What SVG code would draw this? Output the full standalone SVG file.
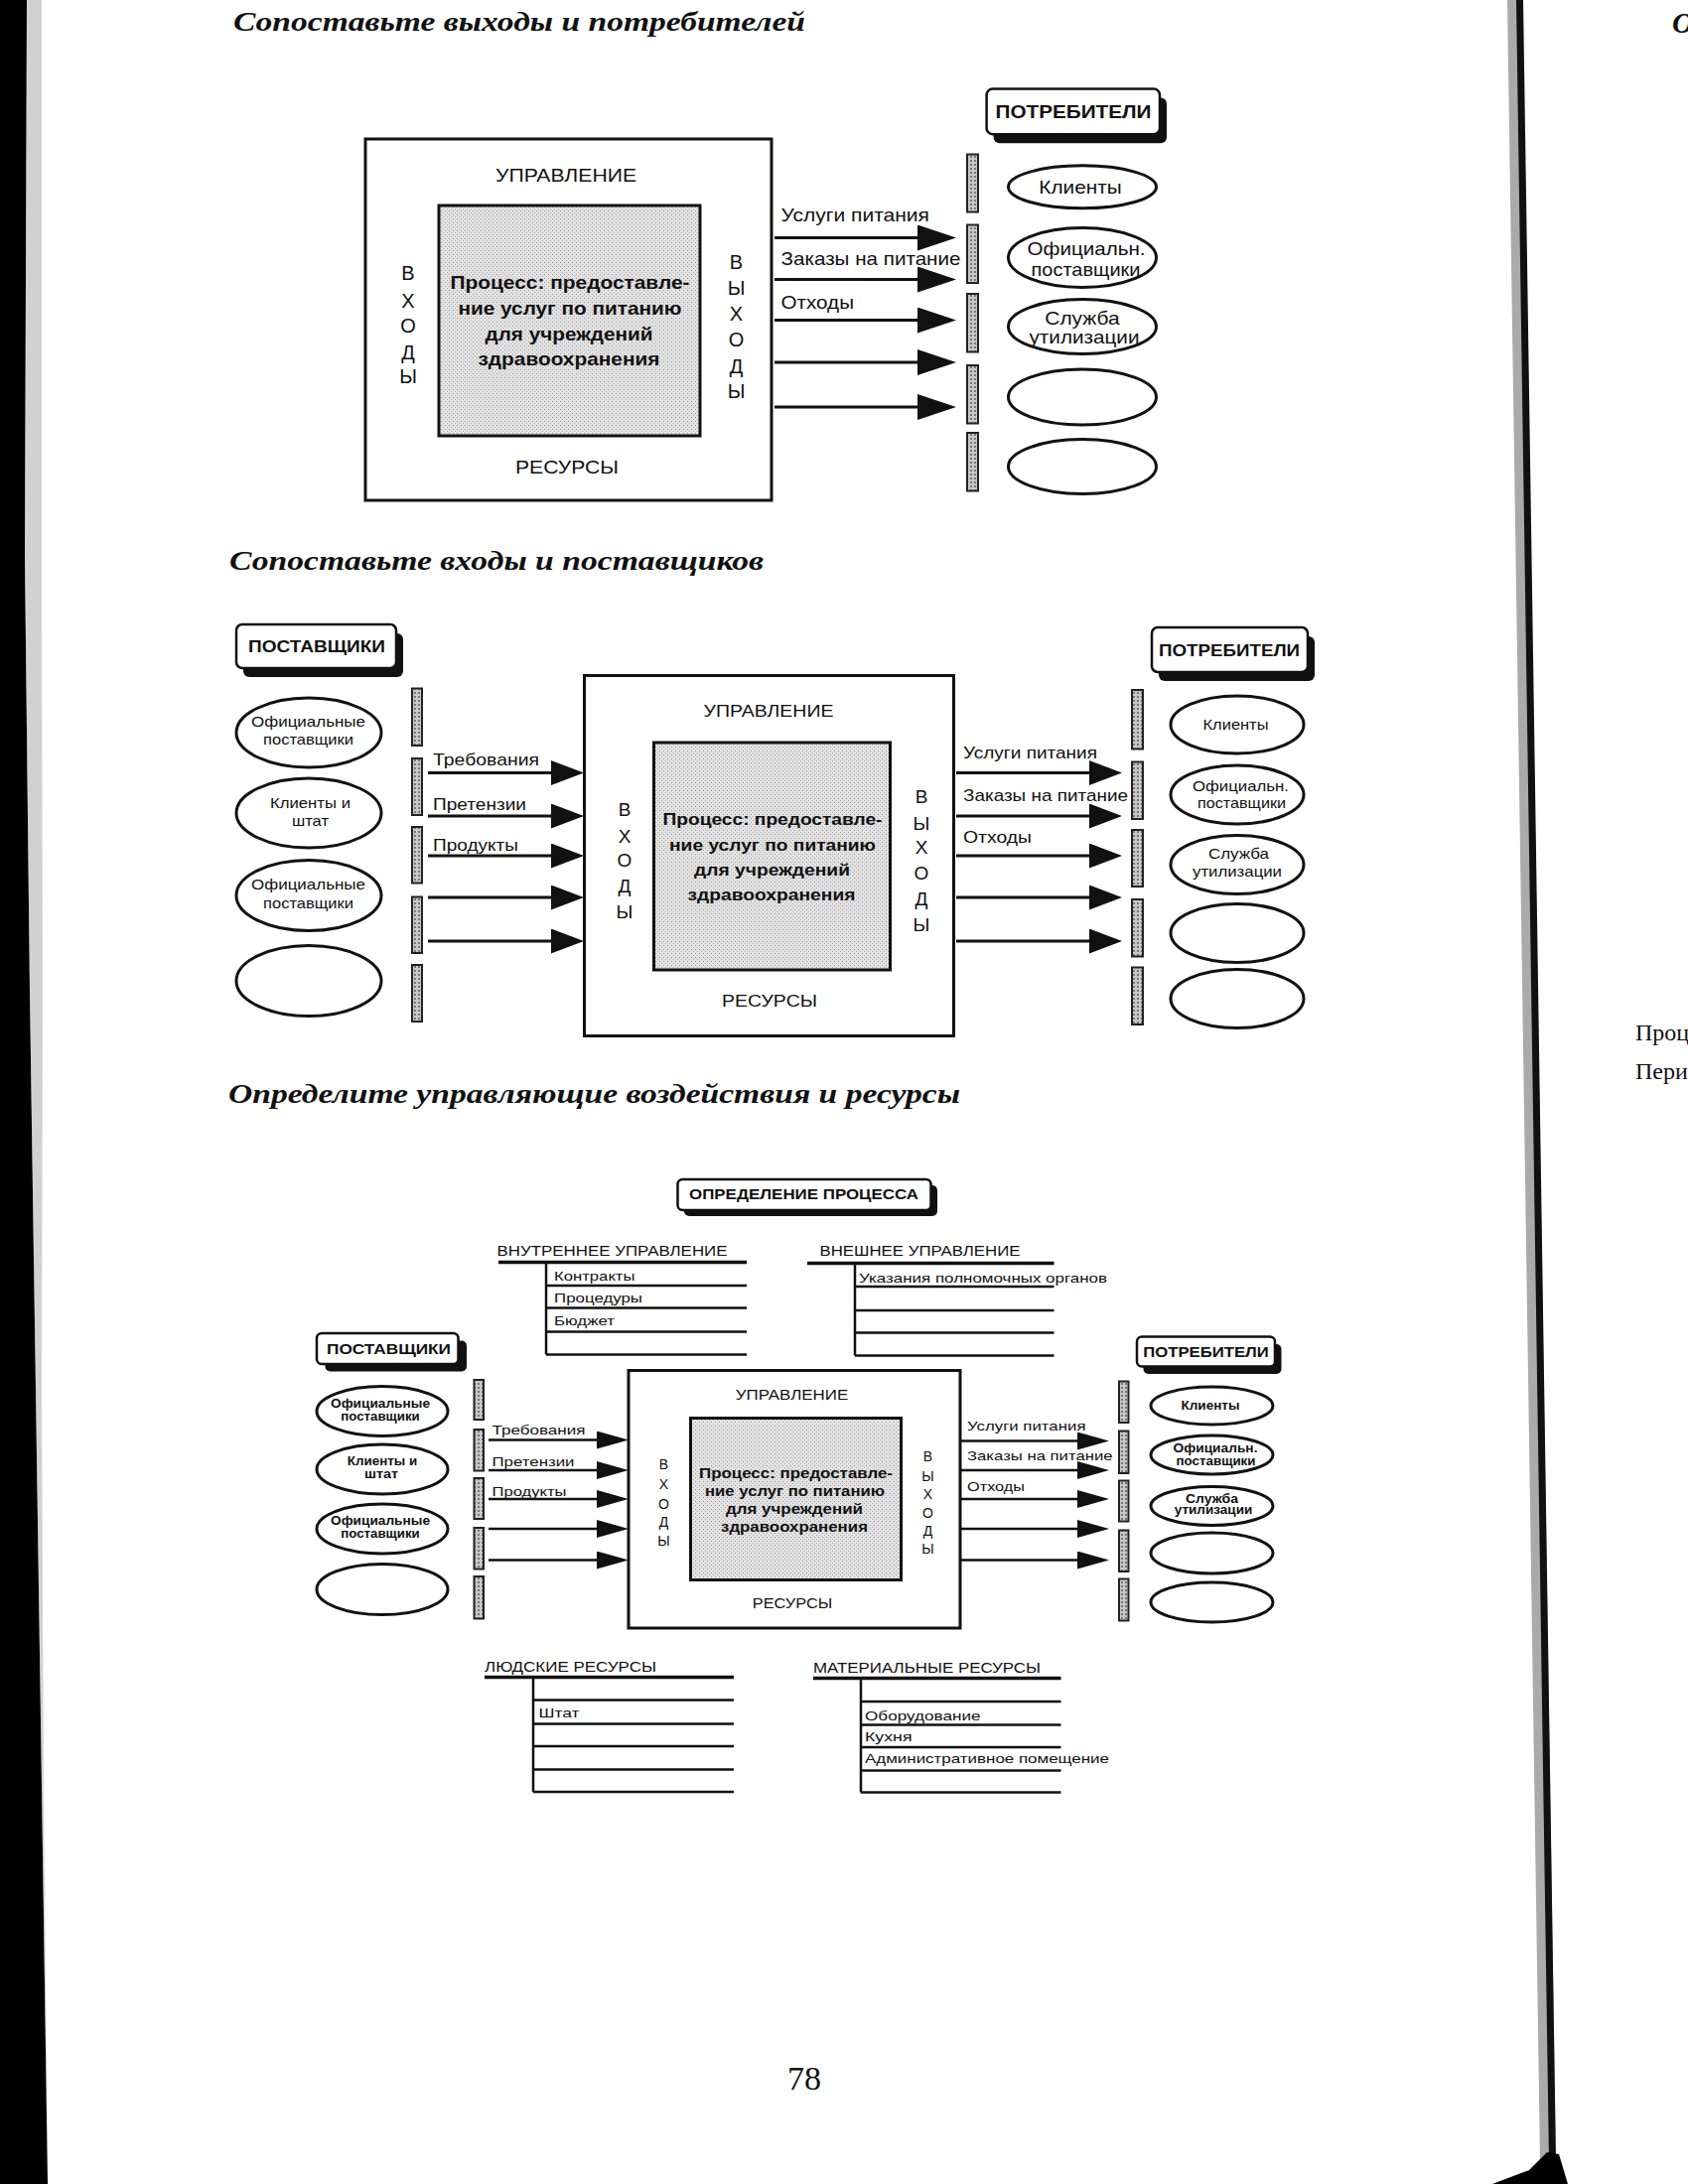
<svg xmlns="http://www.w3.org/2000/svg" width="1700" height="2200" viewBox="0 0 1700 2200">
<style>
.s{font-family:"Liberation Sans",Arial,sans-serif;fill:#111}
.b{font-weight:bold}
.m{text-anchor:middle}
.ttl{font-family:"Liberation Serif","Times New Roman",serif;font-weight:bold;font-style:italic;fill:#111}
.pg{font-family:"Liberation Serif","Times New Roman",serif;fill:#111}
.box{fill:#fff;stroke:#111;stroke-width:3}
.inner{fill:url(#stip);stroke:#111;stroke-width:3}
.bar{fill:url(#bp);stroke:#222;stroke-width:2}
.ell{fill:#fff;stroke:#111;stroke-width:3}
.sh{fill:#111}
.lbl{fill:#fff;stroke:#111;stroke-width:2.5}
.a1{stroke:#111;stroke-width:3;marker-end:url(#ah1)}
.a2{stroke:#111;stroke-width:3;marker-end:url(#ah2)}
.a3{stroke:#111;stroke-width:2.5;marker-end:url(#ah3)}
.tl{stroke:#111;stroke-width:2.5;fill:none}
.tt{stroke:#111;stroke-width:3.5;fill:none}
</style>
<defs>
<pattern id="stip" width="4" height="4" patternUnits="userSpaceOnUse">
<rect width="4" height="4" fill="#e2e2e2"/>
<rect x="0" y="0" width="1" height="1" fill="#9a9a9a"/>
<rect x="2" y="2" width="1" height="1" fill="#b0b0b0"/>
</pattern>
<pattern id="bp" width="4" height="4" patternUnits="userSpaceOnUse">
<rect width="4" height="4" fill="#c8c8c8"/>
<rect x="1" y="1" width="2" height="2" fill="#777"/>
</pattern>
<marker id="ah1" markerUnits="userSpaceOnUse" markerWidth="40" markerHeight="26" viewBox="0 0 40 26" refX="25" refY="13" orient="auto"><path d="M0,0 L39,13 L0,26 Z" fill="#111"/></marker>
<marker id="ah2" markerUnits="userSpaceOnUse" markerWidth="34" markerHeight="26" viewBox="0 0 34 26" refX="21" refY="12.5" orient="auto"><path d="M0,0 L33,12.5 L0,25 Z" fill="#111"/></marker>
<marker id="ah3" markerUnits="userSpaceOnUse" markerWidth="33" markerHeight="19" viewBox="0 0 33 19" refX="20" refY="9" orient="auto"><path d="M0,0 L32,9 L0,18 Z" fill="#111"/></marker>
</defs>
<rect width="1700" height="2200" fill="#fff"/>

<g id="scan-edges">
<polygon points="0,0 27,0 25,560 30,1000 36,1400 42,1800 48,2200 0,2200" fill="#000"/>
<polygon points="27,0 42,0 42,600 43,1000 42,1400 44,1800 48,2200 42,1800 36,1400 30,1000 25,560" fill="#999" opacity="0.45"/>
<polygon points="1518,0 1533,0 1567,2178 1551,2178" fill="#aaa"/>
<polygon points="1527,0 1534,0 1567,2178 1560,2178" fill="#111"/>
<polygon points="1503,2200 1579,2200 1570,2170 1558,2168 1540,2186" fill="#000"/>
</g>

<g id="titles">
<text class="ttl" x="235" y="31" font-size="28" textLength="576" lengthAdjust="spacingAndGlyphs">Сопоставьте выходы и потребителей</text>
<text class="ttl" x="231" y="574" font-size="28" textLength="538" lengthAdjust="spacingAndGlyphs">Сопоставьте входы и поставщиков</text>
<text class="ttl" x="230" y="1111" font-size="28" textLength="737" lengthAdjust="spacingAndGlyphs">Определите управляющие воздействия и ресурсы</text>
<text class="ttl" x="1684" y="33" font-size="30">О</text>
<text class="pg" x="1647" y="1048" font-size="24">Проц</text>
<text class="pg" x="1647" y="1087" font-size="24">Пери</text>
<text class="pg m" x="810" y="2105" font-size="34">78</text>
</g>

<!-- ================= SECTION 1 ================= -->
<g id="s1-process">
<rect class="box" x="368" y="140" width="409" height="364"/>
<rect class="inner" x="442" y="207" width="263" height="232"/>
<text class="s m" x="570" y="182.5" font-size="19" textLength="142" lengthAdjust="spacingAndGlyphs">УПРАВЛЕНИЕ</text>
<text class="s m" x="571" y="477" font-size="19" textLength="104" lengthAdjust="spacingAndGlyphs">РЕСУРСЫ</text>
<text class="s b m" x="574" y="291" font-size="19" textLength="241" lengthAdjust="spacingAndGlyphs">Процесс: предоставле-</text>
<text class="s b m" x="574" y="317" font-size="19" textLength="225" lengthAdjust="spacingAndGlyphs">ние услуг по питанию</text>
<text class="s b m" x="573" y="343" font-size="19" textLength="169" lengthAdjust="spacingAndGlyphs">для учреждений</text>
<text class="s b m" x="573" y="368" font-size="19" textLength="183" lengthAdjust="spacingAndGlyphs">здравоохранения</text>
<g class="s m" font-size="20">
<text x="411" y="281.5">В</text><text x="411" y="309.5">Х</text><text x="411" y="335">О</text><text x="411" y="362">Д</text><text x="411" y="385.5">Ы</text>
<text x="741.5" y="270.5">В</text><text x="741.5" y="297">Ы</text><text x="741.5" y="323">Х</text><text x="741.5" y="348.5">О</text><text x="741.5" y="375.5">Д</text><text x="741.5" y="401">Ы</text>
</g>
</g>
<g id="s1-consumers-label">
<rect class="sh" x="1000.6" y="98.6" width="174.4" height="45.6" rx="6"/>
<rect class="lbl" x="993.6" y="89.6" width="174.4" height="45.6" rx="6"/>
<text class="s b m" x="1081" y="118.5" font-size="19" textLength="157" lengthAdjust="spacingAndGlyphs">ПОТРЕБИТЕЛИ</text>
</g>
<g id="s1-bars">
<rect class="bar" x="974" y="155.5" width="11" height="58"/>
<rect class="bar" x="974" y="226.5" width="11" height="58.5"/>
<rect class="bar" x="974" y="296" width="11" height="58.5"/>
<rect class="bar" x="974" y="368" width="11" height="58.5"/>
<rect class="bar" x="974" y="436" width="11" height="58.5"/>
</g>
<g id="s1-consumer-1"><ellipse class="ell" cx="1090" cy="188.3" rx="74.5" ry="21.5"/><text class="s m" x="1088" y="194.5" font-size="19" textLength="83.5" lengthAdjust="spacingAndGlyphs">Клиенты</text></g>
<g id="s1-consumer-2"><ellipse class="ell" cx="1090" cy="259.5" rx="74.5" ry="30"/><text class="s m" x="1094" y="257" font-size="19" textLength="119" lengthAdjust="spacingAndGlyphs">Официальн.</text><text class="s m" x="1093.5" y="277.5" font-size="19" textLength="110" lengthAdjust="spacingAndGlyphs">поставщики</text></g>
<g id="s1-consumer-3"><ellipse class="ell" cx="1090" cy="329" rx="74.5" ry="27.5"/><text class="s m" x="1090" y="326.5" font-size="19" textLength="75.5" lengthAdjust="spacingAndGlyphs">Служба</text><text class="s m" x="1092" y="346" font-size="19" textLength="111" lengthAdjust="spacingAndGlyphs">утилизации</text></g>
<g id="s1-consumer-4"><ellipse class="ell" cx="1090" cy="400" rx="74.5" ry="28"/></g>
<g id="s1-consumer-5"><ellipse class="ell" cx="1090" cy="470" rx="74.5" ry="27.5"/></g>
<g id="s1-connectors">
<line class="a1" x1="780" y1="239.5" x2="949" y2="239.5"/>
<line class="a1" x1="780" y1="281.5" x2="949" y2="281.5"/>
<line class="a1" x1="780" y1="322.5" x2="949" y2="322.5"/>
<line class="a1" x1="780" y1="365" x2="949" y2="365"/>
<line class="a1" x1="780" y1="410" x2="949" y2="410"/>
<text class="s" x="786.5" y="223" font-size="19" textLength="149.5" lengthAdjust="spacingAndGlyphs">Услуги питания</text>
<text class="s" x="786.5" y="267" font-size="19" textLength="181" lengthAdjust="spacingAndGlyphs">Заказы на питание</text>
<text class="s" x="786.5" y="311" font-size="19" textLength="73.5" lengthAdjust="spacingAndGlyphs">Отходы</text>
</g>

<!-- ================= SECTION 2 ================= -->
<g id="s2-suppliers-label">
<rect class="sh" x="245" y="638" width="161" height="44" rx="6"/>
<rect class="lbl" x="238" y="629" width="161" height="44" rx="6"/>
<text class="s b m" x="319" y="657" font-size="17" textLength="138" lengthAdjust="spacingAndGlyphs">ПОСТАВЩИКИ</text>
</g>
<g id="s2-consumers-label">
<rect class="sh" x="1167" y="641" width="157" height="45" rx="6"/>
<rect class="lbl" x="1160" y="632" width="157" height="45" rx="6"/>
<text class="s b m" x="1238" y="661" font-size="17" textLength="142" lengthAdjust="spacingAndGlyphs">ПОТРЕБИТЕЛИ</text>
</g>
<g id="s2-process">
<rect class="box" x="588.5" y="680.5" width="372" height="363"/>
<rect class="inner" x="658.5" y="748" width="238" height="229"/>
<text class="s m" x="774" y="722" font-size="17" textLength="131" lengthAdjust="spacingAndGlyphs">УПРАВЛЕНИЕ</text>
<text class="s m" x="775" y="1014" font-size="17" textLength="96" lengthAdjust="spacingAndGlyphs">РЕСУРСЫ</text>
<text class="s b m" x="778" y="831" font-size="17" textLength="221" lengthAdjust="spacingAndGlyphs">Процесс: предоставле-</text>
<text class="s b m" x="778" y="857" font-size="17" textLength="208" lengthAdjust="spacingAndGlyphs">ние услуг по питанию</text>
<text class="s b m" x="777.5" y="882" font-size="17" textLength="157" lengthAdjust="spacingAndGlyphs">для учреждений</text>
<text class="s b m" x="777" y="907" font-size="17" textLength="169" lengthAdjust="spacingAndGlyphs">здравоохранения</text>
<g class="s m" font-size="19">
<text x="629" y="822">В</text><text x="629" y="849">Х</text><text x="629" y="873">О</text><text x="629" y="899">Д</text><text x="629" y="925">Ы</text>
<text x="928" y="809">В</text><text x="928" y="836">Ы</text><text x="928" y="860">Х</text><text x="928" y="886">О</text><text x="928" y="912">Д</text><text x="928" y="938">Ы</text>
</g>
</g>
<g id="s2-left-bars">
<rect class="bar" x="415" y="693.5" width="10" height="57.5"/>
<rect class="bar" x="415" y="764" width="10" height="57"/>
<rect class="bar" x="415" y="833" width="10" height="56.5"/>
<rect class="bar" x="415" y="903.5" width="10" height="56.5"/>
<rect class="bar" x="415" y="972" width="10" height="57"/>
</g>
<g id="s2-supplier-1"><ellipse class="ell" cx="311" cy="738" rx="73" ry="35"/><text class="s m" x="310.5" y="732" font-size="15" textLength="115" lengthAdjust="spacingAndGlyphs">Официальные</text><text class="s m" x="310.5" y="750" font-size="15" textLength="91" lengthAdjust="spacingAndGlyphs">поставщики</text></g>
<g id="s2-supplier-2"><ellipse class="ell" cx="311" cy="819" rx="73" ry="35"/><text class="s m" x="312.5" y="814" font-size="15" textLength="81" lengthAdjust="spacingAndGlyphs">Клиенты и</text><text class="s m" x="312.5" y="832" font-size="15" textLength="37" lengthAdjust="spacingAndGlyphs">штат</text></g>
<g id="s2-supplier-3"><ellipse class="ell" cx="311" cy="902" rx="73" ry="35.5"/><text class="s m" x="310.5" y="896" font-size="15" textLength="115" lengthAdjust="spacingAndGlyphs">Официальные</text><text class="s m" x="310.5" y="915" font-size="15" textLength="91" lengthAdjust="spacingAndGlyphs">поставщики</text></g>
<g id="s2-supplier-4"><ellipse class="ell" cx="311" cy="988" rx="73" ry="35.5"/></g>
<g id="s2-right-bars">
<rect class="bar" x="1140" y="695" width="11" height="59.5"/>
<rect class="bar" x="1140" y="767.5" width="11" height="57.5"/>
<rect class="bar" x="1140" y="836" width="11" height="57"/>
<rect class="bar" x="1140" y="906" width="11" height="57.5"/>
<rect class="bar" x="1140" y="974.5" width="11" height="57.5"/>
</g>
<g id="s2-consumer-1"><ellipse class="ell" cx="1246" cy="730" rx="67" ry="29"/><text class="s m" x="1244.5" y="734.5" font-size="15" textLength="66" lengthAdjust="spacingAndGlyphs">Клиенты</text></g>
<g id="s2-consumer-2"><ellipse class="ell" cx="1246" cy="800.5" rx="67" ry="29.5"/><text class="s m" x="1249.5" y="797" font-size="15" textLength="97" lengthAdjust="spacingAndGlyphs">Официальн.</text><text class="s m" x="1250.5" y="813.5" font-size="15" textLength="89" lengthAdjust="spacingAndGlyphs">поставщики</text></g>
<g id="s2-consumer-3"><ellipse class="ell" cx="1246" cy="871" rx="67" ry="29.5"/><text class="s m" x="1247.5" y="864.5" font-size="15" textLength="61" lengthAdjust="spacingAndGlyphs">Служба</text><text class="s m" x="1246" y="882.5" font-size="15" textLength="90" lengthAdjust="spacingAndGlyphs">утилизации</text></g>
<g id="s2-consumer-4"><ellipse class="ell" cx="1246" cy="940" rx="67" ry="29.5"/></g>
<g id="s2-consumer-5"><ellipse class="ell" cx="1246" cy="1006" rx="67" ry="29.5"/></g>
<g id="s2-connectors">
<line class="a2" x1="431" y1="778.5" x2="576" y2="778.5"/>
<line class="a2" x1="431" y1="822" x2="576" y2="822"/>
<line class="a2" x1="431" y1="862" x2="576" y2="862"/>
<line class="a2" x1="431" y1="904" x2="576" y2="904"/>
<line class="a2" x1="431" y1="948" x2="576" y2="948"/>
<line class="a2" x1="963" y1="778.5" x2="1118" y2="778.5"/>
<line class="a2" x1="963" y1="822" x2="1118" y2="822"/>
<line class="a2" x1="963" y1="862" x2="1118" y2="862"/>
<line class="a2" x1="963" y1="904" x2="1118" y2="904"/>
<line class="a2" x1="963" y1="948" x2="1118" y2="948"/>
<text class="s" x="436" y="771" font-size="17" textLength="107" lengthAdjust="spacingAndGlyphs">Требования</text>
<text class="s" x="436" y="816" font-size="17" textLength="94" lengthAdjust="spacingAndGlyphs">Претензии</text>
<text class="s" x="436" y="857" font-size="17" textLength="86" lengthAdjust="spacingAndGlyphs">Продукты</text>
<text class="s" x="970" y="763.5" font-size="17" textLength="135" lengthAdjust="spacingAndGlyphs">Услуги питания</text>
<text class="s" x="970" y="807" font-size="17" textLength="166" lengthAdjust="spacingAndGlyphs">Заказы на питание</text>
<text class="s" x="970" y="849" font-size="17" textLength="69" lengthAdjust="spacingAndGlyphs">Отходы</text>
</g>

<!-- ================= SECTION 3 ================= -->
<g id="s3-process-definition">
<rect class="sh" x="689" y="1194" width="255" height="31" rx="5"/>
<rect class="lbl" x="682.5" y="1188" width="255" height="31" rx="5"/>
<text class="s b m" x="809.5" y="1208" font-size="14" textLength="231" lengthAdjust="spacingAndGlyphs">ОПРЕДЕЛЕНИЕ ПРОЦЕССА</text>
</g>
<g id="s3-internal-control">
<text class="s" x="500.5" y="1265" font-size="14" textLength="232" lengthAdjust="spacingAndGlyphs">ВНУТРЕННЕЕ УПРАВЛЕНИЕ</text>
<line class="tt" x1="502" y1="1271.5" x2="752" y2="1271.5"/>
<line class="tl" x1="550" y1="1271.5" x2="550" y2="1364.5"/>
<line class="tl" x1="550" y1="1295" x2="752" y2="1295"/>
<line class="tl" x1="550" y1="1317.5" x2="752" y2="1317.5"/>
<line class="tl" x1="550" y1="1341.5" x2="752" y2="1341.5"/>
<line class="tl" x1="550" y1="1364.5" x2="752" y2="1364.5"/>
<text class="s" x="558" y="1290" font-size="13" textLength="81.5" lengthAdjust="spacingAndGlyphs">Контракты</text>
<text class="s" x="558" y="1311.5" font-size="13" textLength="89" lengthAdjust="spacingAndGlyphs">Процедуры</text>
<text class="s" x="558" y="1334.5" font-size="13" textLength="61" lengthAdjust="spacingAndGlyphs">Бюджет</text>
</g>
<g id="s3-external-control">
<text class="s" x="825.5" y="1265" font-size="14" textLength="202" lengthAdjust="spacingAndGlyphs">ВНЕШНЕЕ УПРАВЛЕНИЕ</text>
<line class="tt" x1="813" y1="1272.5" x2="1061.5" y2="1272.5"/>
<line class="tl" x1="861" y1="1272.5" x2="861" y2="1365.5"/>
<line class="tl" x1="861" y1="1296" x2="1061.5" y2="1296"/>
<line class="tl" x1="861" y1="1320" x2="1061.5" y2="1320"/>
<line class="tl" x1="861" y1="1342.5" x2="1061.5" y2="1342.5"/>
<line class="tl" x1="861" y1="1365.5" x2="1061.5" y2="1365.5"/>
<text class="s" x="865" y="1291.5" font-size="13" textLength="250" lengthAdjust="spacingAndGlyphs">Указания полномочных органов</text>
</g>
<g id="s3-suppliers-label">
<rect class="sh" x="327.5" y="1350.5" width="142.5" height="31" rx="5"/>
<rect class="lbl" x="319" y="1343" width="142.5" height="31" rx="5"/>
<text class="s b m" x="391.5" y="1364" font-size="14" textLength="125" lengthAdjust="spacingAndGlyphs">ПОСТАВЩИКИ</text>
</g>
<g id="s3-consumers-label">
<rect class="sh" x="1151.5" y="1354" width="139" height="30" rx="5"/>
<rect class="lbl" x="1145" y="1346.5" width="139" height="30" rx="5"/>
<text class="s b m" x="1214.5" y="1367" font-size="14" textLength="126.5" lengthAdjust="spacingAndGlyphs">ПОТРЕБИТЕЛИ</text>
</g>
<g id="s3-process">
<rect class="box" x="633" y="1380.5" width="334" height="259.5"/>
<rect class="inner" x="695.5" y="1428.5" width="212" height="163"/>
<text class="s m" x="797.5" y="1410" font-size="14" textLength="113.5" lengthAdjust="spacingAndGlyphs">УПРАВЛЕНИЕ</text>
<text class="s m" x="798" y="1620" font-size="14" textLength="80.5" lengthAdjust="spacingAndGlyphs">РЕСУРСЫ</text>
<text class="s b m" x="801.5" y="1488.5" font-size="14" textLength="195" lengthAdjust="spacingAndGlyphs">Процесс: предоставле-</text>
<text class="s b m" x="800.5" y="1506.5" font-size="14" textLength="181" lengthAdjust="spacingAndGlyphs">ние услуг по питанию</text>
<text class="s b m" x="800" y="1525" font-size="14" textLength="138" lengthAdjust="spacingAndGlyphs">для учреждений</text>
<text class="s b m" x="800" y="1542.5" font-size="14" textLength="148" lengthAdjust="spacingAndGlyphs">здравоохранения</text>
<g class="s m" font-size="14">
<text x="668.5" y="1480">В</text><text x="668.5" y="1500">Х</text><text x="668.5" y="1520">О</text><text x="668.5" y="1538">Д</text><text x="668.5" y="1556.5">Ы</text>
<text x="934.5" y="1471.5">В</text><text x="934.5" y="1491.5">Ы</text><text x="934.5" y="1510">Х</text><text x="934.5" y="1528.5">О</text><text x="934.5" y="1546.5">Д</text><text x="934.5" y="1565">Ы</text>
</g>
</g>
<g id="s3-left-bars">
<rect class="bar" x="477.5" y="1390" width="9.5" height="40"/>
<rect class="bar" x="477.5" y="1440" width="9.5" height="41.5"/>
<rect class="bar" x="477.5" y="1489" width="9.5" height="41"/>
<rect class="bar" x="477.5" y="1539" width="9.5" height="41.5"/>
<rect class="bar" x="477.5" y="1588" width="9.5" height="42.5"/>
</g>
<g id="s3-supplier-1"><ellipse class="ell" cx="385" cy="1421.5" rx="66" ry="25"/><text class="s b m" x="383" y="1417.5" font-size="12" textLength="100" lengthAdjust="spacingAndGlyphs">Официальные</text><text class="s b m" x="383" y="1431" font-size="12" textLength="79.5" lengthAdjust="spacingAndGlyphs">поставщики</text></g>
<g id="s3-supplier-2"><ellipse class="ell" cx="385" cy="1480" rx="66" ry="25"/><text class="s b m" x="385" y="1476" font-size="12" textLength="70.5" lengthAdjust="spacingAndGlyphs">Клиенты и</text><text class="s b m" x="384" y="1489" font-size="12" textLength="34" lengthAdjust="spacingAndGlyphs">штат</text></g>
<g id="s3-supplier-3"><ellipse class="ell" cx="385" cy="1540" rx="66" ry="25"/><text class="s b m" x="383" y="1536" font-size="12" textLength="100" lengthAdjust="spacingAndGlyphs">Официальные</text><text class="s b m" x="383" y="1549" font-size="12" textLength="79.5" lengthAdjust="spacingAndGlyphs">поставщики</text></g>
<g id="s3-supplier-4"><ellipse class="ell" cx="385" cy="1601" rx="66" ry="25.5"/></g>
<g id="s3-right-bars">
<rect class="bar" x="1127" y="1391.5" width="9.5" height="41.5"/>
<rect class="bar" x="1127" y="1441.5" width="9.5" height="42.5"/>
<rect class="bar" x="1127" y="1491.5" width="9.5" height="41"/>
<rect class="bar" x="1127" y="1541.5" width="9.5" height="41.5"/>
<rect class="bar" x="1127" y="1590.5" width="9.5" height="42"/>
</g>
<g id="s3-consumer-1"><ellipse class="ell" cx="1220.5" cy="1416" rx="61.5" ry="19"/><text class="s b m" x="1219" y="1420" font-size="12" textLength="59" lengthAdjust="spacingAndGlyphs">Клиенты</text></g>
<g id="s3-consumer-2"><ellipse class="ell" cx="1220.5" cy="1465.5" rx="61.5" ry="19.5"/><text class="s b m" x="1224" y="1462.5" font-size="12" textLength="85" lengthAdjust="spacingAndGlyphs">Официальн.</text><text class="s b m" x="1224.5" y="1476" font-size="12" textLength="80" lengthAdjust="spacingAndGlyphs">поставщики</text></g>
<g id="s3-consumer-3"><ellipse class="ell" cx="1220.5" cy="1517" rx="61.5" ry="19.5"/><text class="s b m" x="1220.5" y="1513.5" font-size="12" textLength="53" lengthAdjust="spacingAndGlyphs">Служба</text><text class="s b m" x="1222" y="1525" font-size="12" textLength="78.5" lengthAdjust="spacingAndGlyphs">утилизации</text></g>
<g id="s3-consumer-4"><ellipse class="ell" cx="1220.5" cy="1564.5" rx="61.5" ry="20.5"/></g>
<g id="s3-consumer-5"><ellipse class="ell" cx="1220.5" cy="1614" rx="61.5" ry="20"/></g>
<g id="s3-connectors">
<line class="a3" x1="492" y1="1450.5" x2="621" y2="1450.5"/>
<line class="a3" x1="492" y1="1481" x2="621" y2="1481"/>
<line class="a3" x1="492" y1="1510" x2="621" y2="1510"/>
<line class="a3" x1="492" y1="1540" x2="621" y2="1540"/>
<line class="a3" x1="492" y1="1571.5" x2="621" y2="1571.5"/>
<line class="a3" x1="968" y1="1451.5" x2="1105" y2="1451.5"/>
<line class="a3" x1="968" y1="1481" x2="1105" y2="1481"/>
<line class="a3" x1="968" y1="1510" x2="1105" y2="1510"/>
<line class="a3" x1="968" y1="1540" x2="1105" y2="1540"/>
<line class="a3" x1="968" y1="1571.5" x2="1105" y2="1571.5"/>
<text class="s" x="495.5" y="1445" font-size="13" textLength="94" lengthAdjust="spacingAndGlyphs">Требования</text>
<text class="s" x="495.5" y="1476.5" font-size="13" textLength="83" lengthAdjust="spacingAndGlyphs">Претензии</text>
<text class="s" x="495.5" y="1506.5" font-size="13" textLength="75" lengthAdjust="spacingAndGlyphs">Продукты</text>
<text class="s" x="974" y="1440.5" font-size="13" textLength="119.5" lengthAdjust="spacingAndGlyphs">Услуги питания</text>
<text class="s" x="974" y="1471" font-size="13" textLength="146.5" lengthAdjust="spacingAndGlyphs">Заказы на питание</text>
<text class="s" x="974" y="1502" font-size="13" textLength="58" lengthAdjust="spacingAndGlyphs">Отходы</text>
</g>
<g id="s3-human-resources">
<text class="s" x="488" y="1683.5" font-size="14" textLength="173" lengthAdjust="spacingAndGlyphs">ЛЮДСКИЕ РЕСУРСЫ</text>
<line class="tt" x1="488" y1="1689.5" x2="739" y2="1689.5"/>
<line class="tl" x1="537" y1="1689.5" x2="537" y2="1805"/>
<line class="tl" x1="537" y1="1712.5" x2="739" y2="1712.5"/>
<line class="tl" x1="537" y1="1736.5" x2="739" y2="1736.5"/>
<line class="tl" x1="537" y1="1759" x2="739" y2="1759"/>
<line class="tl" x1="537" y1="1782.5" x2="739" y2="1782.5"/>
<line class="tl" x1="537" y1="1805" x2="739" y2="1805"/>
<text class="s" x="542.5" y="1730" font-size="13" textLength="41" lengthAdjust="spacingAndGlyphs">Штат</text>
</g>
<g id="s3-material-resources">
<text class="s" x="819" y="1684.5" font-size="14" textLength="229" lengthAdjust="spacingAndGlyphs">МАТЕРИАЛЬНЫЕ РЕСУРСЫ</text>
<line class="tt" x1="819" y1="1690.5" x2="1068.5" y2="1690.5"/>
<line class="tl" x1="867" y1="1690.5" x2="867" y2="1805.5"/>
<line class="tl" x1="867" y1="1714" x2="1068.5" y2="1714"/>
<line class="tl" x1="867" y1="1737.5" x2="1068.5" y2="1737.5"/>
<line class="tl" x1="867" y1="1760" x2="1068.5" y2="1760"/>
<line class="tl" x1="867" y1="1783.5" x2="1068.5" y2="1783.5"/>
<line class="tl" x1="867" y1="1805.5" x2="1068.5" y2="1805.5"/>
<text class="s" x="871" y="1732.5" font-size="13" textLength="116.5" lengthAdjust="spacingAndGlyphs">Оборудование</text>
<text class="s" x="871" y="1753.5" font-size="13" textLength="47.5" lengthAdjust="spacingAndGlyphs">Кухня</text>
<text class="s" x="871" y="1775.5" font-size="13" textLength="246" lengthAdjust="spacingAndGlyphs">Административное помещение</text>
</g>
</svg>
